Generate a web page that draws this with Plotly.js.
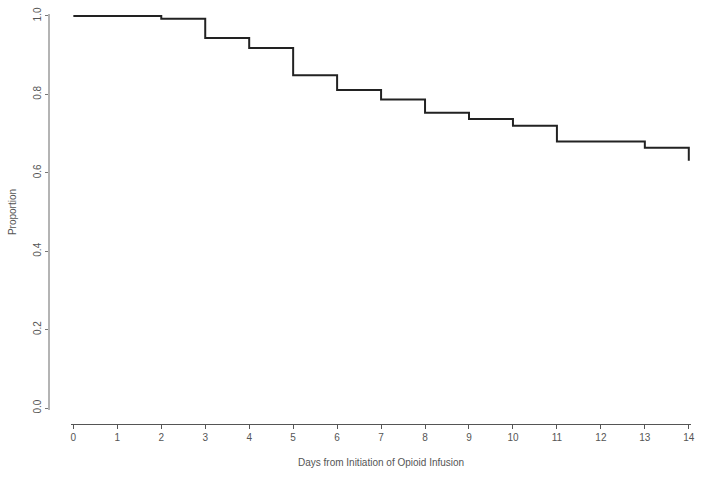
<!DOCTYPE html>
<html>
<head>
<meta charset="utf-8">
<script src="https://cdn.plot.ly/plotly-3.0.1.min.js"></script>
<style>
  html, body { margin: 0; padding: 0; background: #fff; }
  #chart { width: 704px; height: 477px; }
</style>
</head>
<body>
<div id="chart"></div>
<script>
// Kaplan-Meier step points (day, proportion)
var days = [0, 2, 3, 4, 5, 6, 7, 8, 9, 10, 11, 13, 14];
var proportion = [1.0, 0.993, 0.944, 0.918, 0.849, 0.811, 0.787, 0.753, 0.737, 0.720, 0.680, 0.664, 0.631];
var xTicks = [0, 1, 2, 3, 4, 5, 6, 7, 8, 9, 10, 11, 12, 13, 14];
var yTicks = [0, 0.2, 0.4, 0.6, 0.8, 1.0];
var yTickText = ["0.0", "0.2", "0.4", "0.6", "0.8", "1.0"];

var font = { family: "Liberation Sans, Arial, sans-serif", size: 10, color: "#555" };

Plotly.newPlot(
  "chart",
  [
    {
      x: days,
      y: proportion,
      type: "scatter",
      mode: "lines",
      line: { shape: "hv", color: "#222", width: 2 },
      hoverinfo: "skip",
    },
  ],
  {
    width: 704,
    height: 477,
    margin: { l: 48, r: 13, t: 14, b: 53 },
    paper_bgcolor: "#fff",
    plot_bgcolor: "#fff",
    showlegend: false,
    font: font,
    xaxis: {
      domain: [0.036, 1],
      range: [-0.05, 14.05],
      anchor: "free",
      position: 0,
      tickmode: "array",
      tickvals: xTicks,
      ticks: "outside",
      ticklen: 4,
      tickcolor: "#555",
      showline: true,
      linecolor: "#555",
      linewidth: 1,
      showgrid: false,
      zeroline: false,
      tickfont: font,
      title: { text: "Days from Initiation of Opioid Infusion", font: font, standoff: 16 },
    },
    yaxis: {
      domain: [0.034, 1],
      range: [-0.005, 1.005],
      anchor: "free",
      position: 0,
      tickmode: "array",
      tickvals: yTicks,
      ticktext: yTickText,
      tickangle: -90,
      ticks: "outside",
      ticklen: 3,
      tickcolor: "#777",
      showline: true,
      linecolor: "#b4b4b4",
      linewidth: 1.5,
      showgrid: false,
      zeroline: false,
      tickfont: font,
      title: { text: "Proportion", font: font, standoff: 12 },
    },
  },
  { displayModeBar: false, staticPlot: true },
);
</script>
</body>
</html>
